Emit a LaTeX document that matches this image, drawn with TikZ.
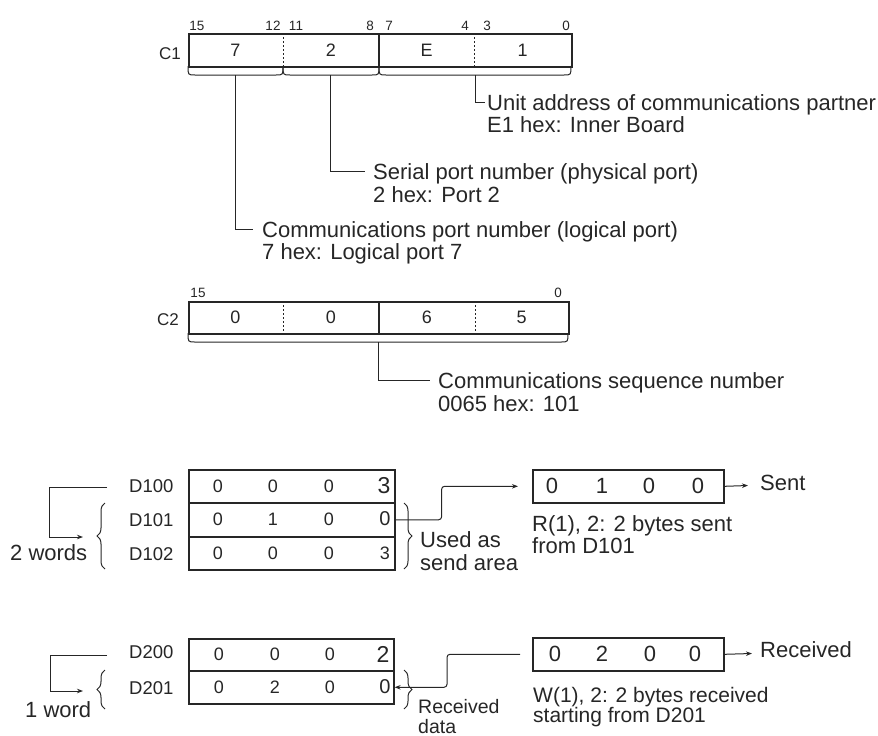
\documentclass[tikz,border=0pt]{standalone}
\usepackage{fontspec}
\setmainfont{Liberation Sans}
\usetikzlibrary{arrows.meta,decorations.pathreplacing}
\definecolor{ink}{HTML}{262626}
\newcommand\ubr[4]{\draw[wire] (#1,#3) .. controls (#1,#4) .. ({#1+7},#4) -- ({#2-7},#4) .. controls (#2,#4) .. (#2,#3);}
\begin{document}
\begin{tikzpicture}[x=1pt,y=-1pt,
  box/.style={draw=ink,line width=1.6pt,inner sep=0pt,anchor=north west},
  cellsep/.style={draw=ink,line width=0.9pt,dash pattern=on 2pt off 2pt},
  solidsep/.style={draw=ink,line width=1.4pt},
  wire/.style={draw=ink,line width=1pt},
  arr/.style={wire,-{Stealth[length=6pt,width=4.5pt]}},
  brc/.style={wire,decorate,decoration={brace,amplitude=8pt}},
  txt/.style={anchor=base west,inner sep=0pt,font=\fontsize{22}{22}\selectfont,text=ink},
  bitn/.style={anchor=base,inner sep=0pt,font=\fontsize{13.5}{13.5}\selectfont,text=ink},
  dig/.style={inner sep=0pt,font=\fontsize{18}{18}\selectfont,text=ink},
  bigdig/.style={inner sep=0pt,font=\fontsize{22}{22}\selectfont,text=ink},
  reg/.style={anchor=base east,inner sep=0pt,font=\fontsize{17}{17}\selectfont,text=ink},
  dlab/.style={anchor=base west,inner sep=0pt,font=\fontsize{18.5}{18.5}\selectfont,text=ink}
]
\useasboundingbox (0,0) rectangle (878,736);

% ---------------- C1 ----------------
\node[reg] (c1lab) at (181,59) {C1};
\node[box,minimum width=383pt,minimum height=33pt] (c1) at (188,33) {};
\draw[cellsep] (283,33) -- (283,66);
\draw[solidsep] (379,33) -- (379,66);
\draw[cellsep] (474,33) -- (474,66);
\node[bitn] (b15) at (197,30) {15};
\node[bitn] (b12) at (273,30) {12};
\node[bitn] (b11) at (296,30) {11};
\node[bitn] (b8)  at (370,30) {8};
\node[bitn] (b7)  at (389,30) {7};
\node[bitn] (b4)  at (465,30) {4};
\node[bitn] (b3)  at (487,30) {3};
\node[bitn] (b0)  at (566,30) {0};
\node[dig] (c1a) at (235.5,50) {7};
\node[dig] (c1b) at (331,50) {2};
\node[dig] (c1c) at (426.5,50) {E};
\node[dig] (c1d) at (522.5,50) {1};
\ubr{188}{283}{66}{75}
\ubr{283}{379}{66}{75}
\ubr{379}{571}{66}{75}
\coordinate (k1) at (235,75);
\coordinate (k2) at (330,75);
\coordinate (k3) at (475,75);
\node[txt] (t3a) at (487,110) {Unit address of communications partner};
\node[txt] (t3b) at (487,132) {E1 hex: Inner Board};
\node[txt] (t2a) at (373,179) {Serial port number (physical port)};
\node[txt] (t2b) at (373,202) {2 hex: Port 2};
\node[txt] (t1a) at (262,237) {Communications port number (logical port)};
\node[txt] (t1b) at (262,259) {7 hex: Logical port 7};
\draw[wire] (k3) |- ([xshift=-2pt,yshift=8pt]t3a.base west);
\draw[wire] (k2) |- ([xshift=-8pt,yshift=8pt]t2a.base west);
\draw[wire] (k1) |- ([xshift=-9pt,yshift=8pt]t1a.base west);

% ---------------- C2 ----------------
\node[reg] (c2lab) at (179,325) {C2};
\node[box,minimum width=380pt,minimum height=32pt] (c2) at (188,301) {};
\draw[cellsep] (283,301) -- (283,333);
\draw[solidsep] (379,301) -- (379,333);
\draw[cellsep] (475,301) -- (475,333);
\node[bitn] (cb15) at (198,297) {15};
\node[bitn] (cb0)  at (558,297) {0};
\node[dig] (c2a) at (235.5,317) {0};
\node[dig] (c2b) at (331,317) {0};
\node[dig] (c2c) at (427,317) {6};
\node[dig] (c2d) at (521.5,317) {5};
\ubr{188}{568}{333}{342}
\coordinate (k4) at (378,342);
\node[txt] (t4a) at (438,388) {Communications sequence number};
\node[txt] (t4b) at (438,411) {0065 hex: 101};
\draw[wire] (k4) |- ([xshift=-8pt,yshift=8pt]t4a.base west);

% ---------------- D100 block ----------------
\node[box,minimum width=206pt,minimum height=33pt] (d100) at (188,469) {};
\node[box,minimum width=206pt,minimum height=34pt] (d101) at (188,502) {};
\node[box,minimum width=206pt,minimum height=33pt] (d102) at (188,536) {};
\node[dlab] (l100) at (129,492) {D100};
\node[dlab] (l101) at (129,526) {D101};
\node[dlab] (l102) at (129,560) {D102};
\node[dig] at (218,486) {0};
\node[dig] at (273,486) {0};
\node[dig] at (329,486) {0};
\node[bigdig,font=\fontsize{23}{23}\selectfont] at (384,486) {3};
\node[dig] at (218,519) {0};
\node[dig] at (273,519) {1};
\node[dig] at (329,519) {0};
\node[dig,font=\fontsize{20}{20}\selectfont] at (385,519) {0};
\node[dig] at (218,553) {0};
\node[dig] at (273,553) {0};
\node[dig] at (329,553) {0};
\node[dig] at (385,553) {3};
% left bracket 2 words
\coordinate (w2s) at (107,487);
\coordinate (w2e) at (83,537);
\draw[arr] (w2s) -- (49,487) |- (w2e);
\draw[brc] (105,569) -- (105,503);
\node[txt] (w2) at (10,560) {2 words};
% right brace
\draw[brc] (404,503) -- (404,569);
\node[txt] (used1) at (420,547) {Used as};
\node[txt] (used2) at (420,570) {send area};
% sent box
\node[box,minimum width=191pt,minimum height=33pt] (sent) at (532,469) {};
\node[bigdig] at (552,486) {0};
\node[bigdig] at (602,486) {1};
\node[bigdig] at (649,486) {0};
\node[bigdig] at (698,486) {0};
\draw[arr,rounded corners=3pt] (d101.east) -- ++(46,0) |- ([xshift=-14pt]sent.west);
\coordinate (sentend) at (748,485.5);
\draw[arr] (sent.east) -- (sentend);
\node[txt] (sentt) at (760,490) {Sent};
\node[txt,align=left,font=\fontsize{22}{20}\selectfont] (r1) at (532,553) {R(1), 2: 2 bytes sent\\from D101};

% ---------------- D200 block ----------------
\node[box,minimum width=205pt,minimum height=32pt] (d200) at (188,638) {};
\node[box,minimum width=205pt,minimum height=33pt] (d201) at (188,670) {};
\node[dlab] (l200) at (129,658) {D200};
\node[dlab] (l201) at (129,694) {D201};
\node[dig] at (219,654) {0};
\node[dig] at (275,654) {0};
\node[dig] at (330,654) {0};
\node[bigdig,font=\fontsize{23}{23}\selectfont] at (383,654) {2};
\node[dig] at (219,687) {0};
\node[dig] at (275,687) {2};
\node[dig] at (330,687) {0};
\node[dig,font=\fontsize{20}{20}\selectfont] at (385,687) {0};
\coordinate (w1s) at (107,655);
\coordinate (w1e) at (83,691);
\draw[arr] (w1s) -- (50,655) |- (w1e);
\draw[brc] (105,709) -- (105,670);
\node[txt] (w1) at (25,717) {1 word};
\draw[brc] (404,670) -- (404,709);
\node[txt,align=left,font=\fontsize{19.5}{19.5}\selectfont] (rd) at (418,733) {Received\\data};
% received box
\node[box,minimum width=191pt,minimum height=33pt] (recv) at (532,637) {};
\node[bigdig] at (555,654) {0};
\node[bigdig] at (602,654) {2};
\node[bigdig] at (650,654) {0};
\node[bigdig] at (695,654) {0};
\draw[arr,rounded corners=3pt] ([xshift=-12pt]recv.west) -- ([xshift=-85pt]recv.west) |- (d201.east);
\coordinate (recvend) at (752,653.5);
\draw[arr] (recv.east) -- (recvend);
\node[txt] (recvt) at (760,657) {Received};
\node[txt,align=left,font=\fontsize{21}{20}\selectfont] (wt) at (533,722) {W(1), 2: 2 bytes received\\starting from D201};
\end{tikzpicture}
\end{document}
